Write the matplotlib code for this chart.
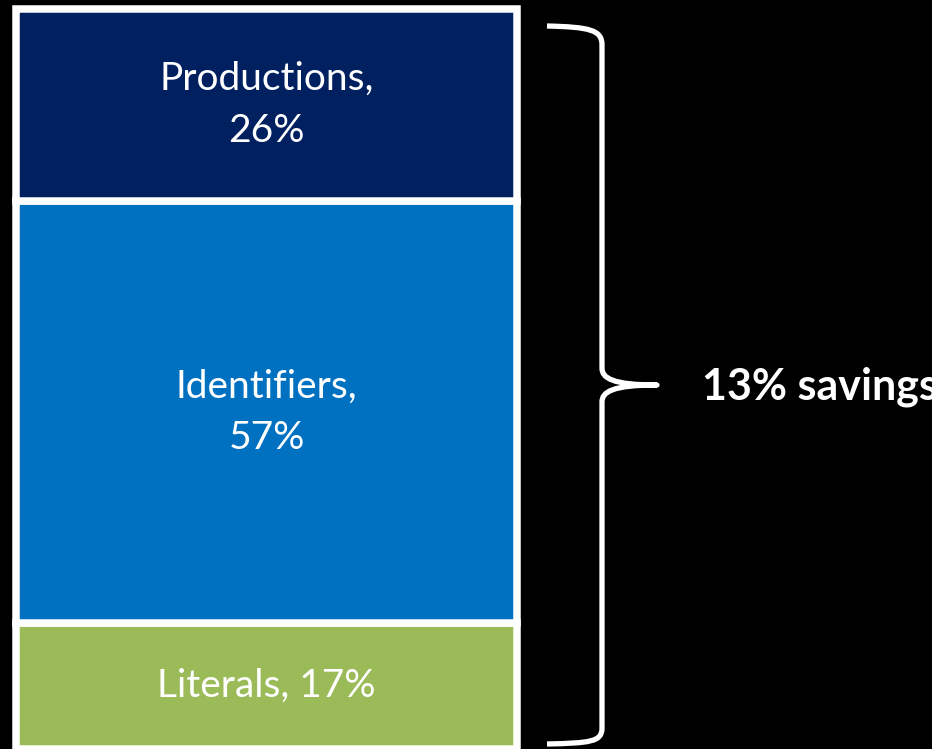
import matplotlib
matplotlib.use("Agg")
import matplotlib.pyplot as plt
from matplotlib.path import Path
from matplotlib.patches import PathPatch

# Stacked share of the encoding, bottom to top
labels = ["Literals", "Identifiers", "Productions"]
shares = [17, 57, 26]
seps = [" ", "\n", "\n"]
colors = ["#9BBB59", "#0070C0", "#002060"]
savings_text = "13% savings"

W, H = 932, 749
fig = plt.figure(figsize=(W / 100, H / 100), dpi=100)
fig.patch.set_facecolor("black")

# main axes: x in pixels, y in percent (bar spans pixel rows 9..749)
ax = fig.add_axes([0, 0, 1, 1])
ax.set_facecolor("black")
ax.set_xlim(0, W)
ax.set_ylim(0, 100 * H / 740)
ax.axis("off")

bottom = 0
for lab, val, sep, col in zip(labels, shares, seps, colors):
    ax.bar(266.5, val, bottom=bottom, width=501, color=col,
           edgecolor="white", linewidth=5.4, clip_on=False)
    ax.text(266.5, bottom + val / 2, f"{lab},{sep}{val}%", ha="center",
            va="center", color="white", fontsize=28, family="Lato",
            linespacing=1.55, multialignment="center")
    bottom += val

# overlay axes in pixel coordinates for the brace
ov = fig.add_axes([0, 0, 1, 1])
ov.set_xlim(0, W)
ov.set_ylim(H, 0)
ov.axis("off")
ov.patch.set_alpha(0)

verts = [
    (547, 26), (590, 27), (602, 30), (602, 45),
    (602, 368),
    (602, 378), (612, 385), (657, 385),
    (612, 385), (602, 392), (602, 402),
    (602, 728),
    (602, 742), (590, 743), (547, 744),
]
codes = [Path.MOVETO, Path.CURVE4, Path.CURVE4, Path.CURVE4,
         Path.LINETO,
         Path.CURVE4, Path.CURVE4, Path.CURVE4,
         Path.CURVE4, Path.CURVE4, Path.CURVE4,
         Path.LINETO,
         Path.CURVE4, Path.CURVE4, Path.CURVE4]
ov.add_patch(PathPatch(Path(verts, codes), fill=False, edgecolor="white",
                       linewidth=3.8, capstyle="butt", joinstyle="round"))

ov.text(702, 387, savings_text, ha="left", va="center", color="white",
        fontsize=31, family="Lato", fontweight="bold", clip_on=False)

fig.savefig("out.png", dpi=100, facecolor="black")
